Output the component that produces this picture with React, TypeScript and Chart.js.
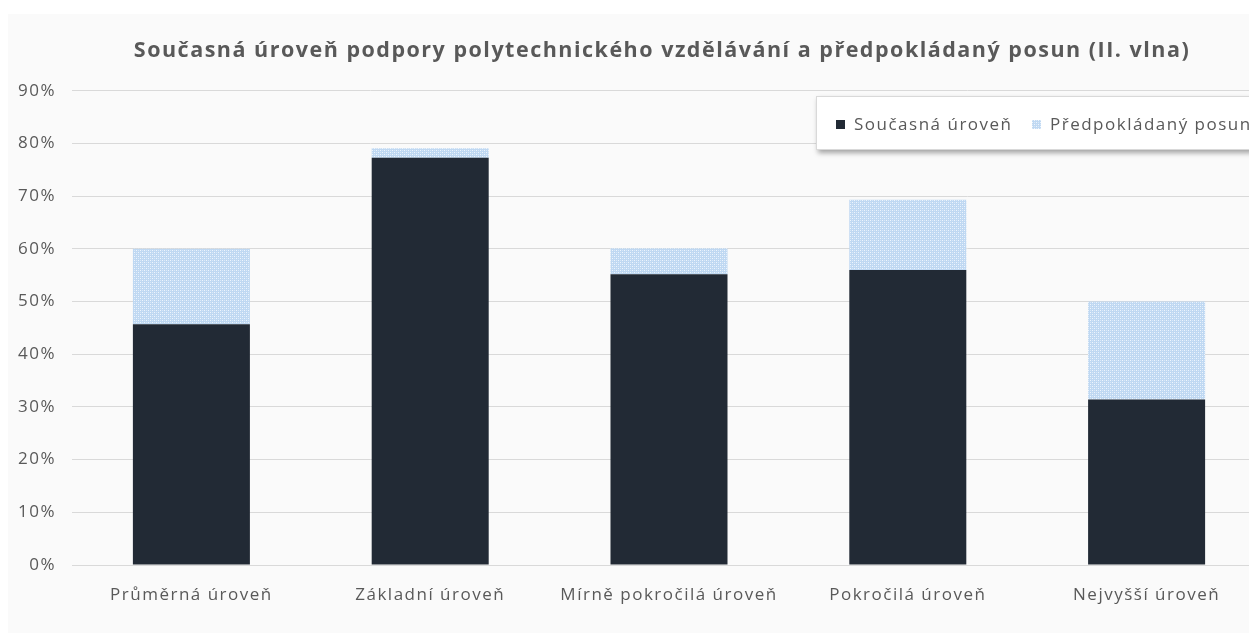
import React, { useEffect, useRef } from "react";
import { Chart, registerables } from "chart.js";

Chart.register(...registerables);

const categories = [
  "Průměrná úroveň",
  "Základní úroveň",
  "Mírně pokročilá úroveň",
  "Pokročilá úroveň",
  "Nejvyšší úroveň",
];
const currentLevel = [45.7, 77.3, 55.2, 56.0, 31.4];
const expectedShift = [14.3, 1.8, 4.9, 13.3, 18.6];
const seriesNames = ["Současná úroveň", "Předpokládaný posun"];
const titleText =
  "Současná úroveň podpory polytechnického vzdělávání a předpokládaný posun (II. vlna)";

const DARK = "#222a35";
const TEXT = "#595959";
const FONT = "'Open Sans', sans-serif";
const SPACING = "1.5px";

function makePattern(): CanvasPattern | string {
  const c = document.createElement("canvas");
  c.width = 4;
  c.height = 4;
  const g = c.getContext("2d");
  if (!g) return "#c5dbf1";
  g.fillStyle = "#bfd8f2";
  g.fillRect(0, 0, 4, 4);
  g.fillStyle = "#eef5fd";
  g.fillRect(0, 0, 1, 1);
  g.fillRect(2, 2, 1, 1);
  g.fillStyle = "#d8e8f8";
  g.fillRect(0, 2, 1, 1);
  g.fillRect(2, 0, 1, 1);
  return g.createPattern(c, "repeat") || "#c5dbf1";
}

const bgPlugin = {
  id: "bgFill",
  beforeDraw(chart: any) {
    const ctx = chart.ctx;
    ctx.save();
    ctx.fillStyle = "#fafafa";
    ctx.fillRect(0, 0, chart.width, chart.height);
    ctx.restore();
    (ctx as any).letterSpacing = SPACING;
  },
};

const legendPlugin = {
  id: "boxLegend",
  afterDraw(chart: any) {
    const ctx = chart.ctx;
    const x = 808;
    const y = 82;
    const w = 480;
    const h = 54;
    ctx.save();
    ctx.shadowColor = "rgba(0,0,0,0.35)";
    ctx.shadowBlur = 5;
    ctx.shadowOffsetX = 2;
    ctx.shadowOffsetY = 3;
    ctx.fillStyle = "#ffffff";
    ctx.fillRect(x, y, w, h);
    ctx.restore();
    ctx.save();
    ctx.strokeStyle = "#d9d9d9";
    ctx.lineWidth = 1;
    ctx.strokeRect(x + 0.5, y + 0.5, w - 1, h - 1);
    const cy = y + h / 2 + 2;
    const items = [
      { mx: 828, tx: 846 },
      { mx: 1024, tx: 1042 },
    ];
    ctx.font = `17px ${FONT}`;
    (ctx as any).letterSpacing = SPACING;
    ctx.textBaseline = "middle";
    ctx.textAlign = "left";
    chart.data.datasets.forEach((ds: any, i: number) => {
      const it = items[i];
      ctx.fillStyle = ds.backgroundColor;
      ctx.fillRect(it.mx, cy - 5, 9, 9);
      ctx.fillStyle = TEXT;
      ctx.fillText(ds.label, it.tx, cy);
    });
    ctx.restore();
  },
};

export default function App() {
  const ref = useRef<HTMLCanvasElement>(null);
  useEffect(() => {
    if (!ref.current) return;
    const pattern = makePattern();
    const chart = new Chart(ref.current, {
      type: "bar",
      data: {
        labels: categories,
        datasets: [
          {
            label: seriesNames[0],
            data: currentLevel,
            backgroundColor: DARK,
            categoryPercentage: 1,
            barPercentage: 0.49,
          },
          {
            label: seriesNames[1],
            data: expectedShift,
            backgroundColor: pattern as any,
            categoryPercentage: 1,
            barPercentage: 0.49,
          },
        ],
      },
      options: {
        responsive: false,
        animation: false,
        layout: { padding: 0 },
        plugins: {
          legend: { display: false },
          tooltip: { enabled: false },
          title: {
            display: true,
            text: titleText,
            color: TEXT,
            font: { family: FONT, size: 21.5, weight: "bold" },
            padding: { top: 24, bottom: 27 },
          },
        },
        scales: {
          x: {
            stacked: true,
            grid: { display: false, drawTicks: false },
            border: { display: true, color: "#d9d9d9" },
            ticks: {
              color: TEXT,
              font: { family: FONT, size: 17 },
              padding: 20,
              maxRotation: 0,
              autoSkip: false,
            },
            afterFit(scale: any) {
              scale.height = 68;
            },
          },
          y: {
            stacked: true,
            min: 0,
            max: 90,
            grid: { color: "#d9d9d9", drawTicks: false },
            border: { display: false },
            ticks: {
              stepSize: 10,
              color: TEXT,
              font: { family: FONT, size: 17 },
              padding: 16,
              callback: (v: any) => `${v}%`,
            },
            afterFit(scale: any) {
              scale.width = 64;
            },
          },
          yRight: {
            position: "right",
            min: 0,
            max: 90,
            grid: { display: false, drawTicks: false },
            border: { display: false },
            ticks: { display: false },
            afterFit(scale: any) {
              scale.width = 50;
            },
          },
        },
      },
      plugins: [bgPlugin, legendPlugin],
    });
    return () => chart.destroy();
  }, []);
  return (
    <div
      style={{
        position: "absolute",
        left: 8,
        top: 14,
        width: 1241,
        height: 619,
        overflow: "hidden",
        background: "#fafafa",
      }}
    >
      <canvas
        ref={ref}
        width={1308}
        height={619}
        style={{ width: 1308, height: 619, display: "block" }}
      />
    </div>
  );
}
